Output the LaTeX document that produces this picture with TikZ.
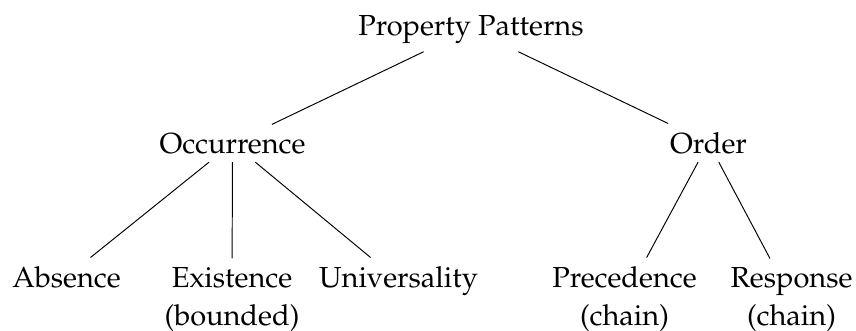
\documentclass[tikz,border=0pt]{standalone}
\usepackage[T1]{fontenc}
\usepackage{mathpazo}

\begin{document}
\begin{tikzpicture}[x=0.414pt, y=-0.414pt]
\tikzset{tree node/.style = {anchor=base, align=center, font=\fontsize{12}{15.7}\selectfont}}
\tikzset{edge/.style = {line width=.4pt}}

   \useasboundingbox (0,0) rectangle (856,330);

   % root
   \node[tree node] (prop) at (471,35) {Property Patterns};

   % second level
   \node[tree node] (occ) at (232.5,153) {Occurrence};
   \node[tree node] (ord) at (708.5,153) {Order};

   % leaves (two-line ones sit on the baseline of their last line)
   \node[tree node] (abs) at (66.5,287) {Absence};
   \node[tree node] (exist) at (232,325) {Existence\\(bounded)};
   \node[tree node] (univ) at (398.5,287) {Universality};
   \node[tree node] (prec) at (624.5,325) {Precedence\\(chain)};
   \node[tree node] (resp) at (791.5,325) {Response\\(chain)};

   \draw[edge] (prop) -- (occ);
   \draw[edge] (prop) -- (ord);

   \foreach \leaf in {abs,exist,univ}
     {\draw[edge] (occ) -- (\leaf);}
   \foreach \leaf in {prec,resp}
     {\draw[edge] (ord) -- (\leaf);}

\end{tikzpicture}
\end{document}
